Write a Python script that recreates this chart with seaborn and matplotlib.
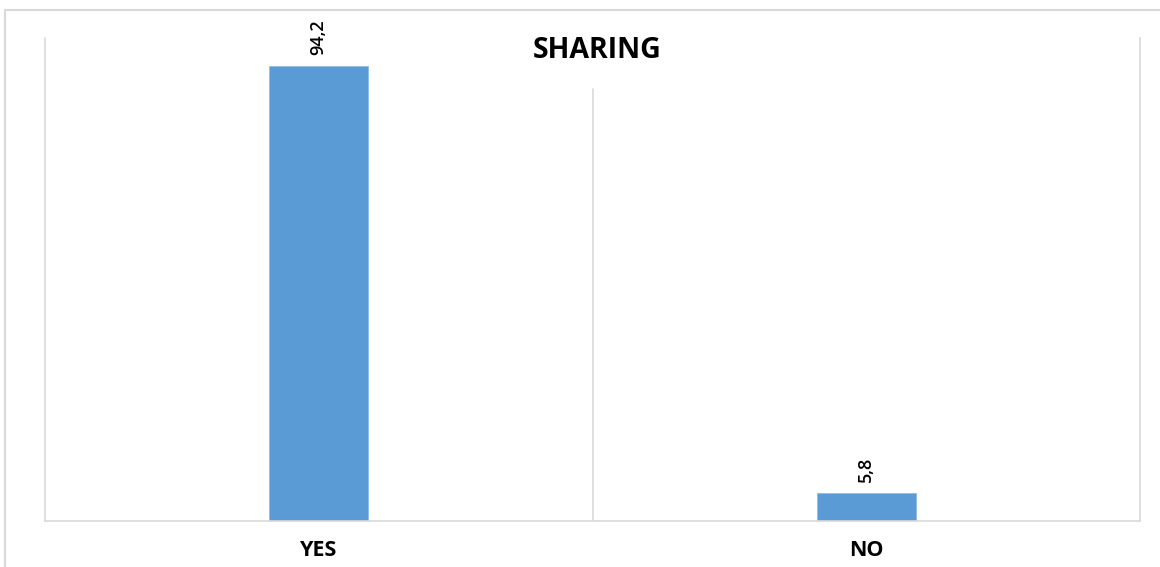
import matplotlib
matplotlib.use("Agg")
import matplotlib.pyplot as plt
from matplotlib.patches import Rectangle
import seaborn as sns
import pandas as pd

# Survey answers and their percentages
categories = ["YES", "NO"]
values = [94.2, 5.8]
value_labels = ["94,2", "5,8"]
title = "SHARING"

df = pd.DataFrame({"answer": categories, "percent": values})

sns.set_theme(style="white")
plt.rcParams["font.family"] = ["Open Sans", "DejaVu Sans"]

grid_color = "#d9d9d9"
bar_color = "#5b9bd5"

fig = plt.figure(figsize=(11.6, 5.67), dpi=100)
ax = fig.add_axes([45 / 1160, 1 - 521 / 567, 1095 / 1160, 483 / 567])

sns.barplot(data=df, x="answer", y="percent", color=bar_color, width=0.18,
            saturation=1, edgecolor="#8fbce6", linewidth=0.6, ax=ax)

ax.set_xlim(-0.5, len(categories) - 0.5)
ax.set_ylim(0, 100)

# Category separators as light vertical rules
for side in ("left", "right", "bottom"):
    ax.spines[side].set_color(grid_color)
    ax.spines[side].set_linewidth(1.2)
ax.spines["top"].set_visible(False)
for i in range(1, len(categories)):
    ax.axvline(i - 0.5, ymin=0, ymax=0.895, color=grid_color, lw=1.2, zorder=0)

ax.set_yticks([])
ax.set_xlabel("")
ax.set_ylabel("")
ax.tick_params(axis="x", length=0, pad=14)
for lbl in ax.get_xticklabels():
    lbl.set_fontsize(15.5)
    lbl.set_fontweight("bold")
    lbl.set_color("#000000")

# Value labels above each bar, rotated
for bar, text in zip(ax.patches, value_labels):
    ax.annotate(text, (bar.get_x() + bar.get_width() / 2, bar.get_height()),
                xytext=(0, 8), textcoords="offset points", rotation=90,
                ha="center", va="bottom", fontsize=13, fontweight="semibold",
                color="#000000")

ax.text(0.5046, 0.975, title, transform=ax.transAxes, ha="center",
        va="center", fontsize=20.5, fontweight="bold", color="#000000")

# Outer frame of the chart area
fig.patches.append(Rectangle((5 / 1160, -0.1), 1.2, 1.1 - 10 / 567,
                             transform=fig.transFigure, fill=False,
                             edgecolor=grid_color, lw=1.5))

fig.savefig("out.png", dpi=100, facecolor="white")
